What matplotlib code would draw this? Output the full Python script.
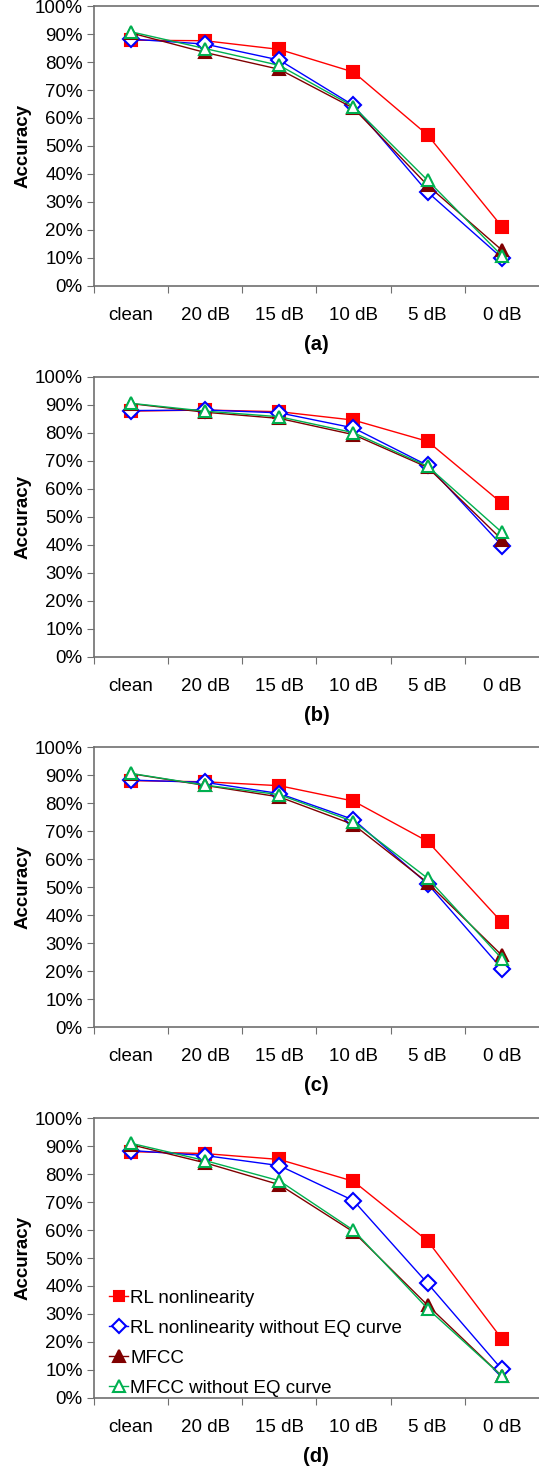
import matplotlib.pyplot as plt
"""Accuracy vs noise level for four feature sets, four stacked panels."""

categories = ['clean', '20 dB', '15 dB', '10 dB', '5 dB', '0 dB']
series_names = ['RL nonlinearity', 'RL nonlinearity without EQ curve',
                'MFCC', 'MFCC without EQ curve']
panel_labels = ['(a)', '(b)', '(c)', '(d)']

# accuracy in %, one list per series, per panel
rl_a = [87.8, 87.6, 84.5, 76.4, 53.9, 21.2]
rl_noeq_a = [88.2, 86.4, 80.7, 64.5, 33.5, 10.0]
mfcc_a = [90.4, 83.4, 77.4, 63.5, 35.9, 12.8]
mfcc_noeq_a = [90.8, 84.8, 78.8, 64.1, 37.7, 10.8]

rl_b = [87.8, 88.2, 87.6, 84.6, 77.0, 54.9]
rl_noeq_b = [88.0, 88.2, 87.2, 81.8, 68.4, 39.8]
mfcc_b = [90.5, 87.4, 85.2, 79.4, 67.7, 41.9]
mfcc_noeq_b = [90.6, 87.8, 85.8, 80.1, 68.1, 44.5]

rl_c = [88.0, 87.6, 86.2, 80.7, 66.3, 37.4]
rl_noeq_c = [88.2, 87.4, 83.4, 74.1, 51.1, 20.8]
mfcc_c = [90.5, 86.3, 82.2, 72.3, 51.5, 25.6]
mfcc_noeq_c = [90.6, 86.4, 83.0, 73.4, 53.1, 24.4]

rl_d = [88.0, 87.3, 85.2, 77.4, 56.1, 21.1]
rl_noeq_d = [88.4, 86.6, 83.0, 70.5, 40.9, 10.2]
mfcc_d = [90.5, 84.0, 76.2, 59.3, 33.1, 7.8]
mfcc_noeq_d = [91.0, 84.8, 77.6, 59.9, 31.9, 7.8]

panels = [
    [rl_a, rl_noeq_a, mfcc_a, mfcc_noeq_a],
    [rl_b, rl_noeq_b, mfcc_b, mfcc_noeq_b],
    [rl_c, rl_noeq_c, mfcc_c, mfcc_noeq_c],
    [rl_d, rl_noeq_d, mfcc_d, mfcc_noeq_d],
]

plt.rcParams['font.family'] = ['Liberation Sans', 'DejaVu Sans']

# style of each series: (colour, marker, face colour, size)
styles = [
    ('#FF0000', 's', '#FF0000', 8.5),
    ('#0000FF', 'D', 'white', 8),
    ('#800000', '^', '#800000', 9),
    ('#00B050', '^', 'white', 9),
]

fig = plt.figure(figsize=(5.39, 14.68), dpi=100)
bottoms = [0.8052, 0.5525, 0.3004, 0.0477]
spine_col = '#707070'

for i, data in enumerate(panels):
    ax = fig.add_axes([0.174, bottoms[i], 0.826, 0.1907])
    x = list(range(len(categories)))
    for vals, name, (col, mk, fc, ms) in zip(data, series_names, styles):
        ax.plot(x, vals, color=col, marker=mk, markerfacecolor=fc,
                markeredgecolor=col, markersize=ms, markeredgewidth=1.5,
                linewidth=1, label=name, clip_on=False)

    ax.set_xlim(-0.5, len(categories) - 0.5)
    ax.set_ylim(0, 100)
    ax.set_yticks(range(0, 101, 10))
    ax.set_yticklabels(['{}%'.format(v) for v in range(0, 101, 10)])
    ax.set_xticks([k - 0.5 for k in range(len(categories))])
    ax.set_xticklabels([])
    ax.set_xticks(x, minor=True)
    ax.set_xticklabels(categories, minor=True)
    ax.tick_params(axis='x', which='minor', length=0, pad=15, labelsize=13.5)
    ax.tick_params(axis='x', which='major', length=5, color=spine_col)
    ax.tick_params(axis='y', length=5, color=spine_col, labelsize=13.5, pad=3)
    for s in ['top', 'left', 'bottom']:
        ax.spines[s].set_color(spine_col)
        ax.spines[s].set_linewidth(1.2)
    ax.spines['right'].set_visible(False)
    ax.set_ylabel('Accuracy', fontsize=13.5, fontweight='bold', labelpad=2)
    ax.text(0.5, -0.21, panel_labels[i], transform=ax.transAxes,
            ha='center', va='center', fontsize=14.5, fontweight='bold')

    if i == 3:
        ax.legend(loc='lower left', bbox_to_anchor=(0.01, -0.035), frameon=False,
                  fontsize=13.5, handlelength=1.0, handletextpad=0.1,
                  labelspacing=0.68, borderaxespad=0.2, markerscale=0.9)

fig.savefig('out.png', dpi=100)
